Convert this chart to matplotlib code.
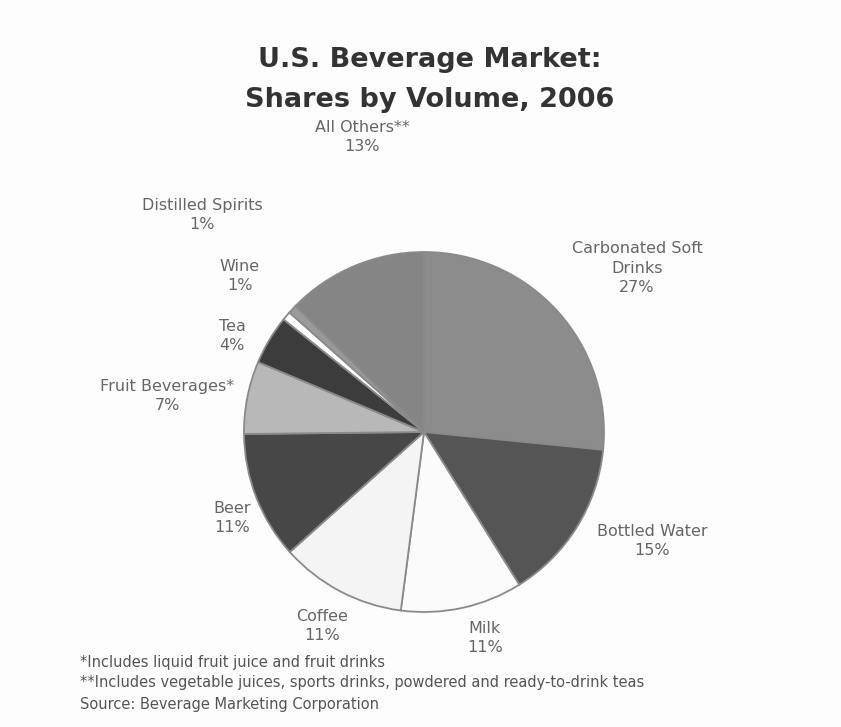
import matplotlib
matplotlib.use('Agg')
import matplotlib.pyplot as plt

categories = ['Carbonated Soft\nDrinks', 'Bottled Water', 'Milk', 'Coffee', 'Beer',
              'Fruit Beverages*', 'Tea', 'Wine', 'Distilled Spirits', 'All Others**']
shares = [26.5, 14.5, 10.9, 11.3, 11.4, 6.5, 4.4, 0.8, 0.8, 12.6]
colors = ['#8c8c8c', '#555555', '#fbfbfb', '#f4f4f4', '#474747',
          '#b8b8b8', '#3c3c3c', '#ffffff', '#9a9a9a', '#858585']

# label anchor points in pixels (x, y from top)
label_pos = [(637, 268), (652, 541), (485, 638), (322, 626), (232, 518),
             (167, 396), (232, 336), (240, 276), (202, 215), (362, 137)]

W, H = 841, 727
fig = plt.figure(figsize=(W / 100, H / 100), dpi=100)
fig.patch.set_facecolor('#fdfdfd')

cx, cy, r = 424, 432, 180
ax = fig.add_axes([(cx - r) / W, (H - cy - r) / H, 2 * r / W, 2 * r / H])
ax.pie(shares, colors=colors, startangle=90, counterclock=False,
       wedgeprops=dict(edgecolor='#8a8a8a', linewidth=1.3))
ax.set_aspect('auto')
ax.set_xlim(-1.0, 1.0)
ax.set_ylim(-1.0, 1.0)
ax.axis('off')

fig.text(430 / W, 1 - 60 / H, 'U.S. Beverage Market:', ha='center', va='center',
         fontsize=19.5, fontweight='bold', color='#333333')
fig.text(430 / W, 1 - 100 / H, 'Shares by Volume, 2006', ha='center', va='center',
         fontsize=19.5, fontweight='bold', color='#333333')

for name, val, (x, y) in zip(categories, shares, label_pos):
    fig.text(x / W, 1 - y / H, f'{name}\n{int(val + 0.5)}%', ha='center', va='center',
             fontsize=11.5, color='#666666', linespacing=1.4)

notes = ['*Includes liquid fruit juice and fruit drinks',
         '**Includes vegetable juices, sports drinks, powdered and ready-to-drink teas',
         'Source: Beverage Marketing Corporation']
for i, t in enumerate(notes):
    fig.text(80 / W, 1 - (662 + i * 21) / H, t, ha='left', va='center',
             fontsize=10.5, color='#555555')

fig.savefig('out.png', dpi=100, facecolor=fig.get_facecolor())
